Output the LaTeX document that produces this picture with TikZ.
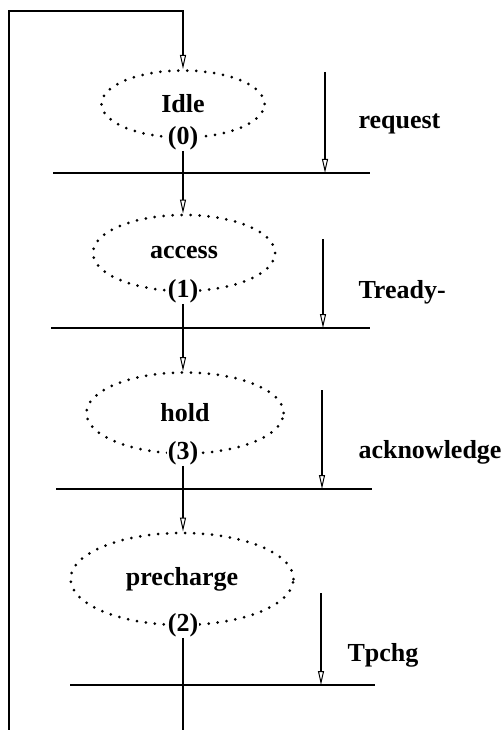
\documentclass[tikz,border=0pt]{standalone}
\usepackage{fontspec}
\setmainfont{Liberation Serif}
\usetikzlibrary{shapes.geometric,arrows.meta}
\begin{document}
\begin{tikzpicture}[x=1pt,y=-1pt,
  txt/.style={font=\fontsize{26}{30}\selectfont\bfseries},
  state/.style={ellipse, draw, line width=3pt, line cap=round, dash pattern=on 0pt off 9pt, inner sep=0pt, txt},
  num/.style={txt, fill=white, inner sep=1pt},
  wire/.style={line width=2pt},
  tip/.style={-{Triangle[open,length=14pt,width=6pt,line width=1pt]}},
  sig/.style={txt, anchor=west}]
\useasboundingbox (0,0) rectangle (502,730);
% states
\node[state, minimum width=163pt, minimum height=67pt] (idle) at (183,104) {Idle};
\node[state, minimum width=182pt, minimum height=76pt] (access) at (184,253) {access};
\node[state, minimum width=197pt, minimum height=81pt] (hold) at (185,413) {hold};
\node[state, minimum width=223pt, minimum height=92pt] (pre) at (182,579) {precharge};
\node[num] (l0) at (183,138) {(0)};
\node[num] (l1) at (183,291) {(1)};
\node[num] (l3) at (183,453) {(3)};
\node[num] (l2) at (183,625) {(2)};
% bars
\coordinate (b0l) at (53,173); \coordinate (b0r) at (370,173);
\coordinate (b1l) at (51,328); \coordinate (b1r) at (370,328);
\coordinate (b3l) at (56,489); \coordinate (b3r) at (372,489);
\coordinate (b2l) at (70,685); \coordinate (b2r) at (375,685);
\draw[wire] (b0l) -- (b0r);
\draw[wire] (b1l) -- (b1r);
\draw[wire] (b3l) -- (b3r);
\draw[wire] (b2l) -- (b2r);
% loop
\coordinate (lpb) at (9,730);
\coordinate (lpt) at (9,11);
\coordinate (lpr) at (183,11);
\draw[wire,tip] (lpb) -- (lpt) -- (lpr) -- (lpr |- idle.north);
% center flow
\draw[wire,tip] (l0.south) -- (l0.south |- access.north);
\draw[wire,tip] (l1.south) -- (l1.south |- hold.north);
\draw[wire,tip] (l3.south) -- (l3.south |- pre.north);
\coordinate (cbot) at (183,730);
\draw[wire] (l2.south) -- (cbot);
% signals
\coordinate (s0t) at (325,72);  \coordinate (s0b) at (325,173);
\coordinate (s1t) at (323,239); \coordinate (s1b) at (323,328);
\coordinate (s3t) at (322,390); \coordinate (s3b) at (322,489);
\coordinate (s2t) at (321,593); \coordinate (s2b) at (321,685);
\draw[wire,tip] (s0t) -- (s0b);
\draw[wire,tip] (s1t) -- (s1b);
\draw[wire,tip] (s3t) -- (s3b);
\draw[wire,tip] (s2t) -- (s2b);
\node[sig] (req) at (355,124) {request};
\node[sig] (trdy) at (355,292) {Tready-};
\node[sig] (ack) at (355,452) {acknowledge};
\node[sig] (tpc) at (344,655) {Tpchg};
\end{tikzpicture}
\end{document}
